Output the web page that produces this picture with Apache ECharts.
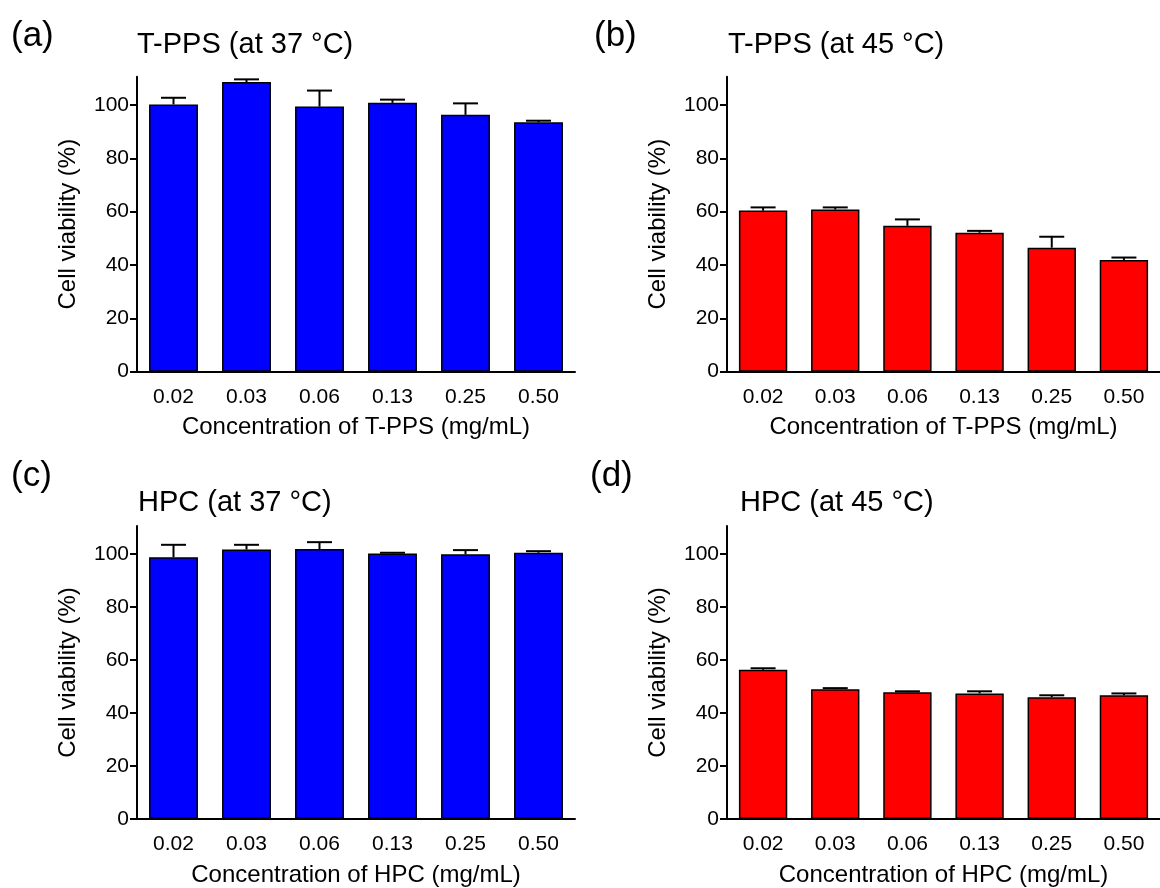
<!DOCTYPE html>
<html>
<head>
<meta charset="utf-8">
<script src="https://cdn.jsdelivr.net/npm/echarts@6/dist/echarts.min.js"></script>
<style>
html,body{margin:0;padding:0;background:#fff;}
#chart{width:1160px;height:888px;}
</style>
</head>
<body>
<div id="chart"></div>
<script>
// ---- data ----
const categories = ['0.02', '0.03', '0.06', '0.13', '0.25', '0.50'];
const yTicks = [0, 20, 40, 60, 80, 100];

const tppsMean37 = [100.2, 108.6, 99.4, 100.8, 96.3, 93.5];
const tppsSd37   = [2.5, 1.0, 6.0, 1.2, 4.3, 0.6];
const tppsMean45 = [60.4, 60.8, 54.7, 52.1, 46.5, 41.9];
const tppsSd45   = [1.2, 0.8, 2.4, 0.7, 4.1, 0.9];
const hpcMean37  = [98.8, 101.7, 101.9, 100.2, 99.9, 100.5];
const hpcSd37    = [4.7, 1.8, 2.6, 0.3, 1.6, 0.6];
const hpcMean45  = [56.3, 49.0, 47.8, 47.4, 46.0, 46.7];
const hpcSd45    = [0.6, 0.4, 0.4, 0.8, 0.7, 0.7];

const panelLetters = ['(a)', '(b)', '(c)', '(d)'];
const panelTitles = ['T-PPS (at 37 °C)', 'T-PPS (at 45 °C)', 'HPC (at 37 °C)', 'HPC (at 45 °C)'];
const xNames = ['Concentration of T-PPS (mg/mL)', 'Concentration of T-PPS (mg/mL)',
                'Concentration of HPC (mg/mL)', 'Concentration of HPC (mg/mL)'];
const yName = 'Cell viability (%)';

const panels = [
  {mean: tppsMean37, sd: tppsSd37, color: '#0000ff'},
  {mean: tppsMean45, sd: tppsSd45, color: '#ff0000'},
  {mean: hpcMean37,  sd: hpcSd37,  color: '#0000ff'},
  {mean: hpcMean45,  sd: hpcSd45,  color: '#ff0000'}
];

// ---- layout ----
const FONT = "'Liberation Sans', Arial, sans-serif";
const gridPos = [
  {left: 137, top: 76.7},
  {left: 727, top: 76.7},
  {left: 137, top: 526},
  {left: 727, top: 526}
];
const letterPos = [[11, 36], [594, 36], [11, 476.5], [590, 476]];
const titlePos = [[137, 44.5], [728, 44.5], [138, 502.5], [740, 502.5]];

const chart = echarts.init(document.getElementById('chart'), null, {renderer: 'canvas'});

const grids = [], xAxes = [], yAxes = [], series = [], graphics = [];

panels.forEach((p, i) => {
  grids.push({left: gridPos[i].left, top: gridPos[i].top, width: 438, height: 295, containLabel: false});
  xAxes.push({
    type: 'category', gridIndex: i, data: categories,
    name: xNames[i], nameLocation: 'middle', nameGap: 44,
    nameTextStyle: {fontFamily: FONT, fontSize: 24, color: '#000'},
    axisLine: {lineStyle: {color: '#000', width: 2}},
    axisTick: {alignWithLabel: true, length: 7, lineStyle: {color: '#000', width: 2}},
    axisLabel: {fontFamily: FONT, fontSize: 21, color: '#000', margin: 15},
    splitLine: {show: false}
  });
  yAxes.push({
    type: 'value', gridIndex: i, min: 0, max: 110.6,
    name: yName, nameLocation: 'middle', nameGap: 57, nameRotate: 90,
    nameTextStyle: {fontFamily: FONT, fontSize: 24, color: '#000'},
    axisLine: {show: true, lineStyle: {color: '#000', width: 2}},
    axisTick: {show: true, length: 7, customValues: yTicks, lineStyle: {color: '#000', width: 2}},
    axisLabel: {fontFamily: FONT, fontSize: 21, color: '#000', margin: 8, customValues: yTicks},
    splitLine: {show: false}
  });
  series.push({
    type: 'bar', xAxisIndex: i, yAxisIndex: i, data: p.mean,
    barCategoryGap: '33%',
    itemStyle: {color: p.color, borderColor: '#000', borderWidth: 1.5},
    emphasis: {disabled: true}, silent: true, z: 2
  });
  series.push({
    type: 'custom', xAxisIndex: i, yAxisIndex: i,
    data: p.mean.map((m, k) => [k, m, m + p.sd[k]]),
    encode: {x: 0, y: [1, 2]},
    silent: true, z: 3,
    renderItem: function (params, api) {
      const top = api.coord([api.value(0), api.value(2)]);
      const base = api.coord([api.value(0), api.value(1)]);
      const half = 12.5;
      return {
        type: 'group',
        children: [
          {type: 'line', shape: {x1: base[0], y1: base[1], x2: top[0], y2: top[1]},
           style: {stroke: '#000', lineWidth: 2}},
          {type: 'line', shape: {x1: top[0] - half, y1: top[1], x2: top[0] + half, y2: top[1]},
           style: {stroke: '#000', lineWidth: 2}}
        ]
      };
    }
  });
  graphics.push({
    type: 'text', x: letterPos[i][0], y: letterPos[i][1],
    style: {text: panelLetters[i], fontFamily: FONT, fontSize: 35, fill: '#000', verticalAlign: 'middle', align: 'left'}
  });
  graphics.push({
    type: 'text', x: titlePos[i][0], y: titlePos[i][1],
    style: {text: panelTitles[i], fontFamily: FONT, fontSize: 29, fill: '#000', verticalAlign: 'middle', align: 'left'}
  });
});

chart.setOption({
  animation: false,
  backgroundColor: '#fff',
  grid: grids,
  xAxis: xAxes,
  yAxis: yAxes,
  series: series,
  graphic: graphics
});
</script>
</body>
</html>
